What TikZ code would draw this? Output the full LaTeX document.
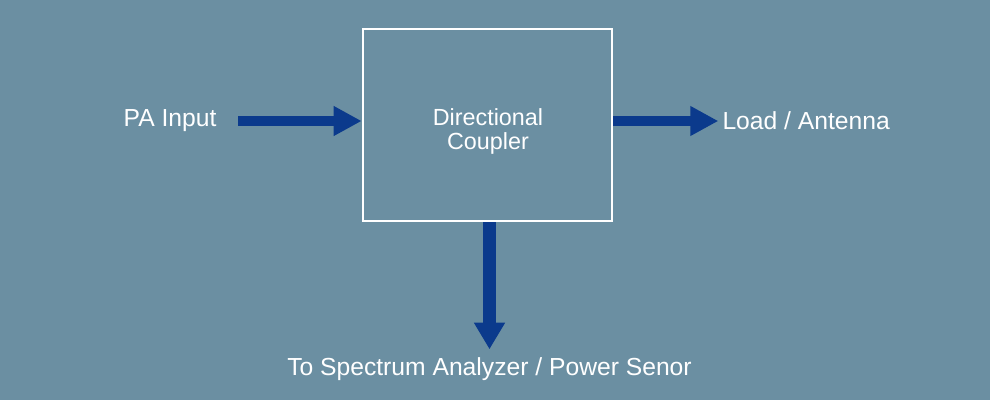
\documentclass[tikz,border=0pt]{standalone}
\usepackage{fontspec}
\setmainfont{Liberation Sans}
\usetikzlibrary{arrows.meta}

\definecolor{bgblue}{RGB}{107,143,162}
\definecolor{flowblue}{RGB}{11,58,140}

\tikzset{every picture/.style={line width=0.75pt}}
\tikzset{
  lbl/.style={text=white, inner sep=0.75pt, font=\fontsize{18.5}{22}\selectfont},
  blocklbl/.style={text=white, inner sep=0.75pt, align=center, font=\fontsize{17.5}{18}\selectfont},
  block/.style={draw=white, line width=2pt, minimum width=186.75pt, minimum height=144pt, inner sep=0pt},
  flow/.style={draw=flowblue, line width=8pt, -{Triangle[length=21pt, width=21pt]}}
}

\begin{document}
\begin{tikzpicture}[x=0.75pt,y=0.75pt,yscale=-1,xscale=1]
% background, sets the diagram size 990 x 400
\fill[bgblue] (0,0) rectangle (990,400);
\useasboundingbox (0,0) rectangle (990,400);

% Coupler box
\node[block] (coupler) at (487.5,125) {};
\node[blocklbl] (couplerlbl) at (488,131) {Directional\\Coupler};

% Text Node
\node[lbl, anchor=east] (pa) at (218,121) {PA Input};
% Text Node
\node[lbl, anchor=west] (load) at (721,121) {Load / Antenna};
% Text Node
\node[lbl] (spec) at (489.5,369) {To Spectrum Analyzer / Power Senor};

% Arrows
\draw[flow] ([xshift=15pt]pa.east) -- (coupler.west |- pa.east);
\draw[flow] (coupler.east |- load.west) -- ([xshift=-2pt]load.west);
\draw[flow, line width=9.5pt, -{Triangle[length=20pt, width=22pt]}, shorten >=5pt] (coupler.south -| spec.north) -- (spec.north);

\end{tikzpicture}
\end{document}
